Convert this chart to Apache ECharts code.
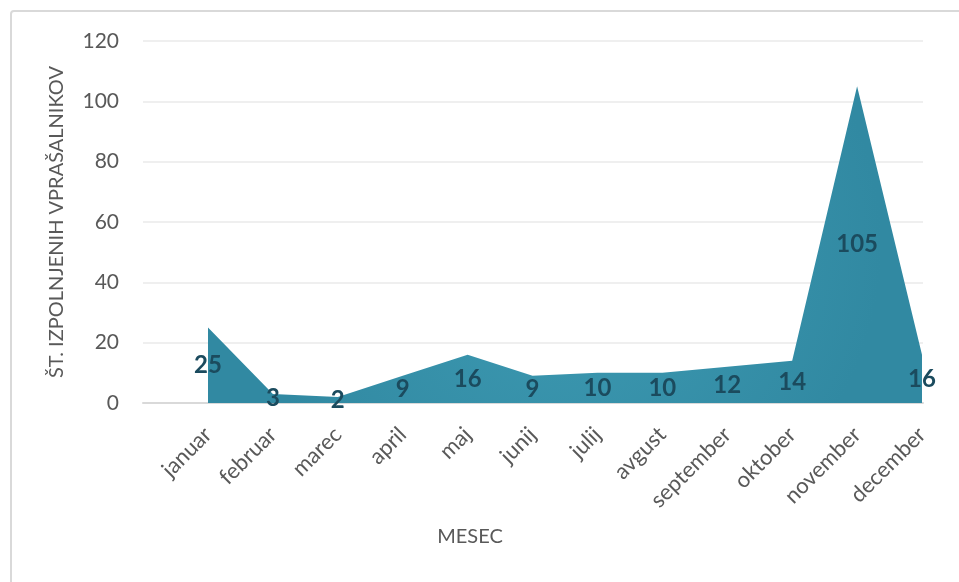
<!DOCTYPE html>
<html>
<head>
<meta charset="utf-8">
<script src="https://cdn.jsdelivr.net/npm/echarts@6/dist/echarts.min.js"></script>
<style>
  html, body { margin: 0; padding: 0; background: #fff; }
  #graf { width: 959px; height: 582px; }
</style>
</head>
<body>
<div id="graf"></div>
<script>
// podatki
const meseci = ['januar', 'februar', 'marec', 'april', 'maj', 'junij', 'julij', 'avgust', 'september', 'oktober', 'november', 'december'];
const vprasalniki = [25, 3, 2, 9, 16, 9, 10, 10, 12, 14, 105, 16];
const yTicks = [0, 20, 40, 60, 80, 100, 120];

const font = 'Lato';
const grey = '#595959';

let myChart = echarts.init(document.getElementById('graf'));

let option = {
    animation: false,
    textStyle: { fontFamily: font },
    graphic: [
        {
            type: 'rect',
            shape: { x: 11, y: 11, width: 1000, height: 1000, r: 3 },
            style: { fill: 'none', stroke: '#d9d9d9', lineWidth: 2 }
        },
        {
            type: 'text',
            x: 470, y: 537,
            style: { text: 'MESEC', fill: grey, font: '20px ' + font, textAlign: 'center', textVerticalAlign: 'middle' }
        }
    ],
    grid: [
        { left: 143, right: 36, top: 41, bottom: 179 },
        { left: 208, right: 37, top: 41, bottom: 179 }
    ],
    xAxis: [
        {
            gridIndex: 0, type: 'value', min: 0, max: 1,
            axisLine: { show: true, lineStyle: { color: '#d9d9d9', width: 2 } },
            axisTick: { show: false }, axisLabel: { show: false }, splitLine: { show: false }
        },
        {
            gridIndex: 1, type: 'category', data: meseci, boundaryGap: false,
            axisLine: { show: false }, axisTick: { show: false },
            axisLabel: { rotate: 45, color: grey, fontSize: 22, margin: 28, interval: 0 }
        }
    ],
    yAxis: [
        {
            gridIndex: 0, type: 'value', min: yTicks[0], max: yTicks[yTicks.length - 1], interval: yTicks[1] - yTicks[0],
            name: 'ŠT. IZPOLNJENIH VPRAŠALNIKOV', nameLocation: 'middle', nameGap: 76,
            nameTextStyle: { color: grey, fontSize: 20 },
            axisLine: { show: false }, axisTick: { show: false },
            axisLabel: { color: grey, fontSize: 21, margin: 24 },
            splitLine: { lineStyle: { color: '#efefef', width: 2 } }
        },
        {
            gridIndex: 1, type: 'value', min: 0, max: 120, show: false
        }
    ],
    series: [
        {
            type: 'line',
            xAxisIndex: 1, yAxisIndex: 1,
            data: vprasalniki,
            symbol: 'none',
            lineStyle: { width: 0 },
            z: 2,
            areaStyle: {
                opacity: 1,
                color: new echarts.graphic.RadialGradient(0.5, 0.5, 1, [
                    { offset: 0, color: '#3e9bb3' },
                    { offset: 1, color: '#3189a2' }
                ])
            }
        },
        {
            // oznake podatkov na sredini ploskve
            type: 'custom',
            xAxisIndex: 1, yAxisIndex: 1,
            clip: false,
            z: 10,
            data: vprasalniki.map((v, i) => [i, v]),
            renderItem: function (params, api) {
                let p = api.coord([api.value(0), api.value(1) / 2]);
                return {
                    type: 'text',
                    x: p[0], y: p[1],
                    style: {
                        text: String(api.value(1)),
                        fill: '#1b4b5e',
                        font: 'bold 24px ' + font,
                        textAlign: 'center',
                        textVerticalAlign: 'middle'
                    }
                };
            }
        }
    ]
};
myChart.setOption(option);
</script>
</body>
</html>
